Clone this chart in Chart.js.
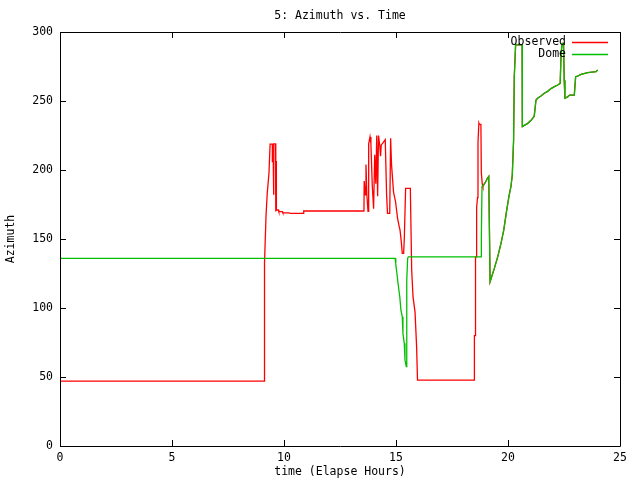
<!DOCTYPE html>
<html>
<head>
<meta charset="utf-8">
<script src="https://cdn.jsdelivr.net/npm/chart.js@4/dist/chart.umd.min.js"></script>
<style>
  html, body { margin: 0; padding: 0; background: #fff; }
  #wrap { width: 640px; height: 480px; }
</style>
</head>
<body>
<div id="wrap"><canvas id="azChart" width="640" height="480"></canvas></div>
<script>
const chartTitle = '5: Azimuth vs. Time'
const xTitle = 'time (Elapse Hours)'
const yTitle = 'Azimuth'

// Observed azimuth (hours, degrees)
const obsHours = [0, 9.11, 9.11, 9.15, 9.20, 9.25, 9.33, 9.38, 9.48, 9.48, 9.52, 9.52, 9.55, 9.55, 9.62, 9.62, 9.64, 9.64, 9.66, 9.66, 9.75, 9.77, 9.93, 9.95, 10.2, 10.3, 10.85, 10.88,
  13.57, 13.58, 13.63, 13.66, 13.70, 13.75, 13.78, 13.84, 13.88, 13.94, 14.00, 14.05, 14.10, 14.14, 14.18, 14.22, 14.28, 14.31, 14.34, 14.52, 14.58, 14.62, 14.72, 14.76, 14.80, 14.89, 14.98, 15.07, 15.13, 15.18, 15.23, 15.28, 15.34, 15.37, 15.43, 15.64, 15.70, 15.76, 15.85, 15.92, 15.96,
  18.50, 18.50, 18.55, 18.55, 18.60, 18.60, 18.64, 18.66, 18.70, 18.72, 18.79, 18.81, 18.85, 18.88, 18.95, 19.02, 19.08, 19.14, 19.17, 19.20,
  19.39, 19.54, 19.69, 19.81, 19.92, 20.04, 20.13, 20.19, 20.25, 20.28, 20.34, 20.63, 20.63, 20.65, 20.88, 21.03, 21.17, 21.25, 21.32, 21.47, 21.62, 21.77, 21.92, 22.07, 22.22, 22.33, 22.37, 22.42, 22.48, 22.51, 22.54, 22.66, 22.75, 22.96, 23.02, 23.11, 23.26, 23.56, 23.93, 24.0]
const obsAz = [47, 47, 75.6, 132.6, 168, 182.6, 198, 218.8, 218.8, 206, 206, 182, 182, 219, 219, 170, 170, 206, 206, 171, 171, 169.8, 169.8, 169, 169, 168.6, 168.6, 170.3,
  170.3, 192, 182, 204, 182, 170, 219, 224, 219, 189, 172, 211, 190, 225, 181, 225, 217, 210, 218, 222, 182, 168.6, 168.6, 223, 204, 184, 177, 165, 160, 156.5, 149, 139.6, 139.6, 150, 186.7, 186.7, 127.5, 108, 97, 72, 47.8,
  47.8, 80, 80, 137, 137, 173, 180, 220, 234, 233, 233, 198, 190, 188, 190, 192, 194, 195.3, 157.7, 119,
  128.7, 137, 147, 156.5, 168.6, 180.7, 188, 196, 221.7, 267.6, 290.6, 290.6, 246, 231.4, 233.8, 236, 239, 250.7, 252, 253.6, 255.6, 257, 259, 260.4, 261.6, 262.8, 284.6, 291.8, 291.8, 265, 252, 253, 254.3, 254.3, 267.6, 268, 269.3, 270.5, 271.3, 272.5]

// Dome azimuth
const domeHours = [0, 14.96, 14.99, 15.04, 15.10, 15.17, 15.22, 15.28, 15.31, 15.37, 15.40, 15.46, 15.47, 15.49, 15.52, 15.55,
  18.81, 18.81, 18.84, 18.88, 18.95, 19.02, 19.08, 19.14, 19.17, 19.20,
  19.39, 19.54, 19.69, 19.81, 19.92, 20.04, 20.13, 20.19, 20.25, 20.28, 20.34, 20.63, 20.63, 20.65, 20.88, 21.03, 21.17, 21.25, 21.32, 21.47, 21.62, 21.77, 21.92, 22.07, 22.22, 22.33, 22.37, 22.42, 22.48, 22.51, 22.54, 22.66, 22.75, 22.96, 23.02, 23.11, 23.26, 23.56, 23.93, 24.0]
const domeAz = [136, 136, 132, 125, 116.7, 108, 98.5, 93.7, 81.6, 74.4, 62.3, 57.5, 74, 120, 136, 137,
  137, 151.7, 188, 188, 190, 192, 194, 195.3, 157.7, 119,
  128.7, 137, 147, 156.5, 168.6, 180.7, 188, 196, 221.7, 267.6, 290.6, 290.6, 246, 231.4, 233.8, 236, 239, 250.7, 252, 253.6, 255.6, 257, 259, 260.4, 261.6, 262.8, 284.6, 291.8, 291.8, 265, 252, 253, 254.3, 254.3, 267.6, 268, 269.3, 270.5, 271.3, 272.5]

const xTicks = [0, 5, 10, 15, 20, 25]
const yTicks = [0, 50, 100, 150, 200, 250, 300]

const FONT = '"DejaVu Sans Mono", "Liberation Mono", monospace'

function pairs(xs, ys) {
  return xs.map((x, i) => ({ x: x, y: ys[i] }))
}

// gnuplot style frame, inward ticks, title and legend
const gnuFrame = {
  id: 'gnuFrame',
  afterDraw(chart) {
    const ctx = chart.ctx
    const a = chart.chartArea
    const xs = chart.scales.x
    const ys = chart.scales.y
    ctx.save()
    ctx.strokeStyle = '#000'
    ctx.lineWidth = 1
    ctx.beginPath()
    ctx.rect(Math.round(a.left) + 0.5, Math.round(a.top) + 0.5, Math.round(a.right - a.left), Math.round(a.bottom - a.top))
    xTicks.forEach(v => {
      const px = Math.round(xs.getPixelForValue(v)) + 0.5
      ctx.moveTo(px, a.bottom); ctx.lineTo(px, a.bottom - 6)
      ctx.moveTo(px, a.top); ctx.lineTo(px, a.top + 6)
    })
    yTicks.forEach(v => {
      const py = Math.round(ys.getPixelForValue(v)) + 0.5
      ctx.moveTo(a.left, py); ctx.lineTo(a.left + 6, py)
      ctx.moveTo(a.right, py); ctx.lineTo(a.right - 6, py)
    })
    ctx.stroke()

    ctx.fillStyle = '#000'
    ctx.font = '11.5px ' + FONT
    ctx.textAlign = 'center'
    ctx.textBaseline = 'middle'
    ctx.fillText(chartTitle, (a.left + a.right) / 2, 16)

    // legend
    ctx.textAlign = 'right'
    ctx.lineWidth = 1.3
    chart.data.datasets.forEach((ds, i) => {
      const y = 42 + i * 12
      ctx.fillStyle = '#000'
      ctx.fillText(ds.label, 566, y)
      ctx.strokeStyle = ds.borderColor
      ctx.beginPath()
      ctx.moveTo(572, y + 0.5); ctx.lineTo(608, y + 0.5)
      ctx.stroke()
    })
    ctx.restore()
  }
}

new Chart(document.getElementById('azChart'), {
  type: 'line',
  data: {
    datasets: [{
      label: 'Observed',
      data: pairs(obsHours, obsAz),
      borderColor: '#ff0000',
      borderWidth: 1.3,
      pointRadius: 0,
      tension: 0,
      order: 1,
    }, {
      label: 'Dome',
      data: pairs(domeHours, domeAz),
      borderColor: '#00c000',
      borderWidth: 1.3,
      pointRadius: 0,
      tension: 0,
      order: 0,
    }],
  },
  options: {
    responsive: false,
    animation: false,
    layout: { padding: { top: 32, right: 20, left: 0, bottom: 0 } },
    plugins: {
      legend: { display: false },
      tooltip: { enabled: false },
    },
    scales: {
      x: {
        type: 'linear',
        min: 0,
        max: 25,
        afterBuildTicks: s => { s.ticks = xTicks.map(v => ({ value: v })) },
        afterFit: s => { s.height = 34 },
        grid: { display: false, drawTicks: false },
        border: { display: false },
        ticks: { color: '#000', padding: 5, maxRotation: 0, font: { family: FONT, size: 11.5 } },
        title: { display: true, text: xTitle, color: '#000', padding: { top: 0, bottom: 1 }, font: { family: FONT, size: 11.5 } },
      },
      y: {
        min: 0,
        max: 300,
        afterBuildTicks: s => { s.ticks = yTicks.map(v => ({ value: v })) },
        afterFit: s => { s.width = 60 },
        grid: { display: false, drawTicks: false },
        border: { display: false },
        ticks: { color: '#000', padding: 7, font: { family: FONT, size: 11.5 } },
        title: { display: true, text: yTitle, color: '#000', padding: { top: 4, bottom: 0 }, font: { family: FONT, size: 11.5 } },
      },
    },
  },
  plugins: [gnuFrame],
})
</script>
</body>
</html>
